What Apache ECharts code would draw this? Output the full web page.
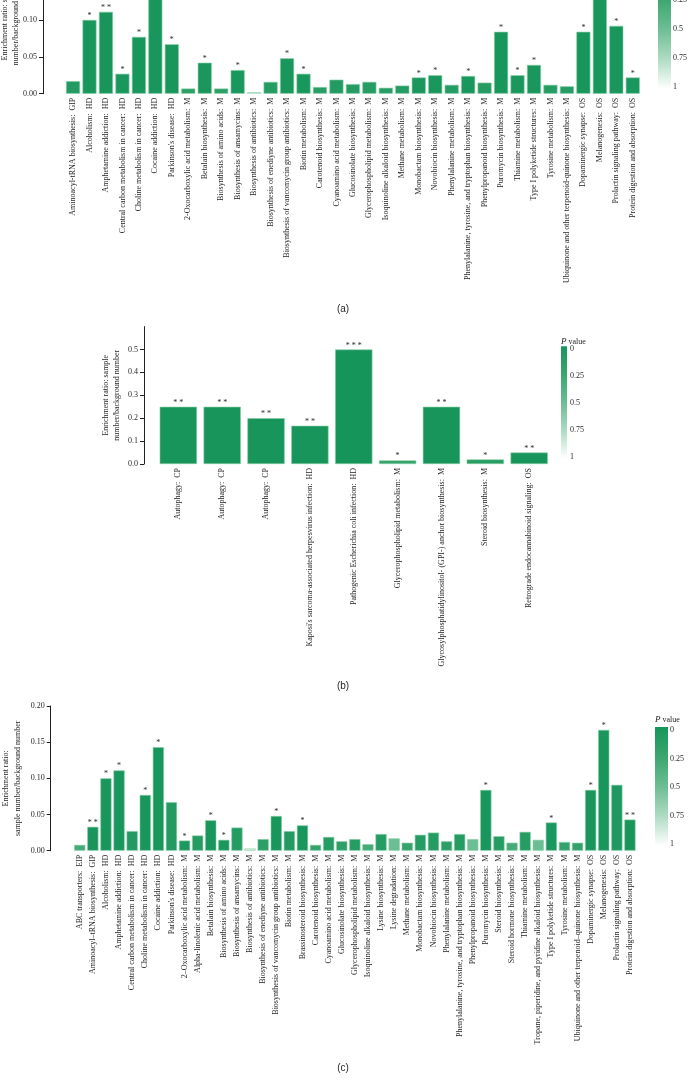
<!DOCTYPE html>
<html lang="en">
<head>
<meta charset="UTF-8">
<title>Enrichment ratio</title>
<script src="https://cdn.jsdelivr.net/npm/echarts@6/dist/echarts.min.js"></script>
<style>
    html, body { margin: 0; padding: 0; background: #fff; }
    #container { width: 688px; height: 1082px; }
</style>
</head>
<body>
<div id="container"></div>
<script>
// ---- panel (a) ----
var namesA = [
    'Aminoacyl-tRNA biosynthesis:  GIP', 'Alcoholism:  HD', 'Amphetamine addiction:  HD',
    'Central carbon metabolism in cancer:  HD', 'Choline metabolism in cancer:  HD', 'Cocaine addiction:  HD',
    "Parkinson's disease:  HD", '2-Oxocarboxylic acid metabolism:  M', 'Betalain biosynthesis:  M',
    'Biosynthesis of amino acids:  M', 'Biosynthesis of ansamycins:  M', 'Biosynthesis of antibiotics:  M',
    'Biosynthesis of enediyne antibiotics:  M', 'Biosynthesis of vancomycin group antibiotics:  M',
    'Biotin metabolism:  M', 'Carotenoid biosynthesis:  M', 'Cyanoamino acid metabolism:  M',
    'Glucosinolate biosynthesis:  M', 'Glycerophospholipid metabolism:  M', 'Isoquinoline alkaloid biosynthesis:  M',
    'Methane metabolism:  M', 'Monobactam biosynthesis:  M', 'Novobiocin biosynthesis:  M',
    'Phenylalanine metabolism:  M', 'Phenylalanine, tyrosine, and tryptophan biosynthesis:  M',
    'Phenylpropanoid biosynthesis:  M', 'Puromycin biosynthesis:  M', 'Thiamine metabolism:  M',
    'Type I polyketide structures:  M', 'Tyrosine metabolism:  M',
    'Ubiquinone and other terpenoid-quinone biosynthesis:  M', 'Dopaminergic synapse:  OS',
    'Melanogenesis:  OS', 'Prolactin signaling pathway:  OS', 'Protein digestion and absorption:  OS'
];
var valuesA = [0.017, 0.100, 0.111, 0.027, 0.077, 0.143, 0.067, 0.007, 0.042, 0.007,
               0.032, 0.002, 0.016, 0.048, 0.027, 0.009, 0.019, 0.013, 0.016, 0.008,
               0.011, 0.022, 0.025, 0.012, 0.024, 0.015, 0.084, 0.025, 0.039, 0.012,
               0.010, 0.084, 0.167, 0.092, 0.022];
var pA = [0.08, 0.02, 0.005, 0.03, 0.02, 0.02, 0.02, 0.15, 0.03, 0.15,
          0.03, 0.92, 0.10, 0.02, 0.03, 0.12, 0.08, 0.10, 0.10, 0.12,
          0.10, 0.03, 0.03, 0.10, 0.03, 0.10, 0.02, 0.03, 0.03, 0.10,
          0.10, 0.02, 0.02, 0.02, 0.03];
var starsA = ['', '*', '**', '*', '*', '*', '*', '', '*', '',
              '*', '', '', '*', '*', '', '', '', '', '',
              '', '*', '*', '', '*', '', '*', '*', '*', '',
              '', '*', '*', '*', '*'];

// ---- panel (b) ----
var namesB = [
    'Autophagy:  CP', 'Autophagy:  CP', 'Autophagy:  CP',
    "Kaposi's sarcoma-associated herpesvirus infection:  HD", 'Pathogenic Escherichia coli infection:  HD',
    'Glycerophospholipid metabolism:  M', 'Glycosylphosphatidylinositol- (GPI-) anchor biosynthesis:  M',
    'Steroid biosynthesis:  M', 'Retrograde endocannabinoid signaling:  OS'
];
var valuesB = [0.25, 0.25, 0.20, 0.167, 0.50, 0.016, 0.25, 0.020, 0.050];
var pB = [0.005, 0.005, 0.005, 0.005, 0.0005, 0.2, 0.005, 0.12, 0.005];
var starsB = ['**', '**', '**', '**', '***', '*', '**', '*', '**'];

// ---- panel (c) ----
var namesC = [
    'ABC transporters:  EIP', 'Aminoacyl\u2013tRNA biosynthesis:  GIP', 'Alcoholism:  HD', 'Amphetamine addiction:  HD',
    'Central carbon metabolism in cancer:  HD', 'Choline metabolism in cancer:  HD', 'Cocaine addiction:  HD',
    "Parkinson's disease:  HD", '2\u2013Oxocarboxylic acid metabolism:  M', 'Alpha-linolenic acid metabolism:  M',
    'Betalain biosynthesis:  M', 'Biosynthesis of amino acids:  M', 'Biosynthesis of ansamycins:  M',
    'Biosynthesis of antibiotics:  M', 'Biosynthesis of enediyne antibiotics:  M',
    'Biosynthesis of vancomycin group antibiotics:  M', 'Biotin metabolism:  M', 'Brassinosteroid biosynthesis:  M',
    'Carotenoid biosynthesis:  M', 'Cyanoamino acid metabolism:  M', 'Glucosinolate biosynthesis:  M',
    'Glycerophospholipid metabolism:  M', 'Isoquinoline alkaloid biosynthesis:  M', 'Lysine biosynthesis:  M',
    'Lysine degradation:  M', 'Methane metabolism:  M', 'Monobactam biosynthesis:  M', 'Novobiocin biosynthesis:  M',
    'Phenylalanine metabolism:  M', 'Phenylalanine, tyrosine, and tryptophan biosynthesis:  M',
    'Phenylpropanoid biosynthesis:  M', 'Puromycin biosynthesis:  M', 'Steroid biosynthesis:  M',
    'Steroid hormone biosynthesis:  M', 'Thiamine metabolism:  M',
    'Tropane, piperidine, and pyridine alkaloid biosynthesis:  M', 'Type I polyketide structures:  M',
    'Tyrosine metabolism:  M', 'Ubiquinone and other terpenoid\u2013quinone biosynthesis:  M',
    'Dopaminergic synapse:  OS', 'Melanogenesis:  OS', 'Prolactin signaling pathway:  OS',
    'Protein digestion and absorption:  OS'
];
var valuesC = [0.008, 0.033, 0.100, 0.111, 0.027, 0.077, 0.143, 0.067, 0.014, 0.021,
               0.042, 0.015, 0.032, 0.003, 0.016, 0.048, 0.027, 0.035, 0.008, 0.019,
               0.013, 0.016, 0.009, 0.023, 0.017, 0.011, 0.022, 0.025, 0.013, 0.023,
               0.016, 0.084, 0.020, 0.011, 0.026, 0.015, 0.039, 0.012, 0.011, 0.084,
               0.167, 0.091, 0.043];
var pC = [0.30, 0.005, 0.02, 0.02, 0.08, 0.02, 0.02, 0.08, 0.05, 0.10,
          0.02, 0.03, 0.10, 0.90, 0.15, 0.02, 0.08, 0.02, 0.20, 0.10,
          0.15, 0.10, 0.30, 0.10, 0.50, 0.20, 0.10, 0.10, 0.15, 0.10,
          0.50, 0.02, 0.10, 0.30, 0.10, 0.50, 0.03, 0.20, 0.20, 0.02,
          0.02, 0.06, 0.005];
var starsC = ['', '**', '*', '*', '', '*', '*', '', '*', '',
              '*', '*', '', '', '', '*', '', '*', '', '',
              '', '', '', '', '', '', '', '', '', '',
              '', '*', '', '', '', '', '*', '', '', '*',
              '*', '', '**'];

// P value colour scale
var pTicks = [0, 0.25, 0.5, 0.75, 1];
var pColors = ['#16955a', '#3ba66f', '#6cbd93', '#aedbc3', '#ffffff'];

var FONT = 'Liberation Serif';
var TXT = '#231f20';

var panels = [
    {names: namesA, values: valuesA, p: pA, stars: starsA, digits: 2, max: 0.2, interval: 0.05,
     left: 64.8, width: 576.2, top: -53.8, height: 147.5, offset: 21.8, nameGap: 22, lh: 10.5,
     yName: 'Enrichment ratio: sample\nnumber/background number',
     leg: {x: 658, w: 13, y0: -29, y1: 87, tx: 673, title: -40}},
    {names: namesB, values: valuesB, p: pB, stars: starsB, digits: 1, max: 0.6, interval: 0.1, labelMax: 0.5,
     left: 156.4, width: 394.7, top: 326.6, height: 137.4, offset: 12.4, nameGap: 22, lh: 11,
     yName: 'Enrichment ratio: sample\nnumber/background number',
     leg: {x: 561, w: 6, y0: 349.3, y1: 456.7, tx: 570, title: 341.5}},
    {names: namesC, values: valuesC, p: pC, stars: starsC, digits: 2, max: 0.2, interval: 0.05,
     left: 73.2, width: 563.3, top: 706, height: 144.7, offset: 22.5, nameGap: 27, lh: 12,
     yName: 'Enrichment ratio:\nsample number/background number',
     leg: {x: 655, w: 13, y0: 730, y1: 844, tx: 670, title: 719.5}}
];

var grids = [], xAxes = [], yAxes = [], series = [], visualMaps = [], graphics = [];

panels.forEach(function (pn, k) {
    grids.push({left: pn.left, top: pn.top, width: pn.width, height: pn.height,
                containLabel: false, outerBoundsMode: 'none'});
    xAxes.push({
        type: 'category', gridIndex: k, data: pn.names,
        axisLine: {show: false}, axisTick: {show: false},
        axisLabel: {interval: 0, rotate: 90, margin: 4, fontFamily: FONT, fontSize: 8, color: TXT}
    });
    var ticks = [];
    var top = pn.labelMax !== undefined ? pn.labelMax : pn.max;
    for (var v = 0; v <= top + 1e-9; v += pn.interval) ticks.push(+v.toFixed(4));
    yAxes.push({
        type: 'value', gridIndex: k, min: 0, max: pn.max, interval: pn.interval, offset: pn.offset,
        name: pn.yName, nameLocation: 'middle', nameGap: pn.nameGap, nameRotate: 90,
        nameMoveOverlap: false,
        nameTextStyle: {fontFamily: FONT, fontSize: 8, color: TXT, lineHeight: pn.lh, align: 'center'},
        axisLine: {show: true, lineStyle: {color: '#231f20', width: 1}},
        axisTick: {show: true, length: 4, customValues: ticks, lineStyle: {color: '#231f20'}},
        splitLine: {show: false},
        axisLabel: {
            margin: 6, fontFamily: FONT, fontSize: 8, color: TXT, customValues: ticks,
            formatter: function (val) { return val.toFixed(pn.digits); }
        }
    });
    series.push({
        type: 'bar', xAxisIndex: k, yAxisIndex: k, barCategoryGap: '15%',
        encode: {x: 0, y: 1},
        data: pn.values.map(function (val, i) { return [i, val, pn.p[i]]; }),
        itemStyle: {borderColor: '#86cca4', borderWidth: 0.6},
        label: {
            show: true, position: 'top', distance: 0, fontFamily: FONT, fontSize: 8, color: TXT,
            formatter: function (params) { return pn.stars[params.dataIndex].split('').join(' '); }
        },
        silent: true
    });
    visualMaps.push({
        type: 'continuous', show: false, seriesIndex: k, dimension: 2, min: 0, max: 1,
        inRange: {color: pColors}
    });

    // P value colour bar
    var lg = pn.leg;
    var span = lg.y1 - lg.y0;
    graphics.push({
        type: 'rect', shape: {x: lg.x, y: lg.y0 - 3, width: lg.w, height: span + 5}, silent: true,
        style: {fill: new echarts.graphic.LinearGradient(0, 0, 0, 1, pColors.map(function (c, i) {
            return {offset: pTicks[i], color: c};
        }))}
    });
    pTicks.forEach(function (t) {
        graphics.push({
            type: 'text', x: lg.tx, y: lg.y0 + t * span, silent: true,
            style: {text: String(t), fontFamily: FONT, fontSize: 8, fill: TXT, verticalAlign: 'middle'}
        });
    });
    graphics.push({
        type: 'text', x: lg.x, y: lg.title, silent: true,
        style: {
            text: '{i|P} value', fontFamily: FONT, fontSize: 8, fill: TXT, verticalAlign: 'middle',
            rich: {i: {fontStyle: 'italic', fontFamily: FONT, fontSize: 9, fill: TXT}}
        }
    });
});

// panel letters
[['(a)', 309], ['(b)', 686], ['(c)', 1068]].forEach(function (lt) {
    graphics.push({
        type: 'text', x: 343, y: lt[1], silent: true,
        style: {text: lt[0], fontFamily: 'Liberation Sans', fontSize: 10, fill: TXT, align: 'center', verticalAlign: 'middle'}
    });
});

var myChart = echarts.init(document.getElementById('container'), null, {renderer: 'canvas'});
myChart.setOption({
    animation: false,
    backgroundColor: '#ffffff',
    grid: grids,
    xAxis: xAxes,
    yAxis: yAxes,
    visualMap: visualMaps,
    series: series,
    graphic: graphics
});
</script>
</body>
</html>
